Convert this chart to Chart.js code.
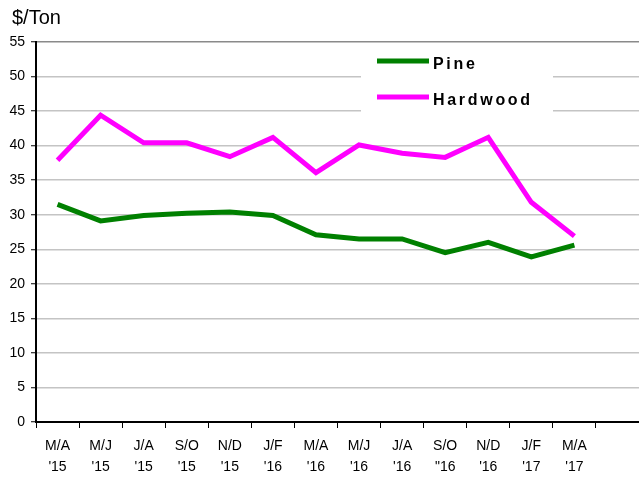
<!DOCTYPE html>
<html>
<head>
<meta charset="utf-8">
<script src="https://cdn.jsdelivr.net/npm/chart.js@4/dist/chart.umd.min.js"></script>
<style>
  html, body { margin: 0; padding: 0; background: #fff; }
  #wrap { width: 639px; height: 477px; }
</style>
</head>
<body>
<div id="wrap"><canvas id="c" width="639" height="477"></canvas></div>
<script>
const categories = [
  ["M/A", "'15"], ["M/J", "'15"], ["J/A", "'15"], ["S/O", "'15"], ["N/D", "'15"],
  ["J/F", "'16"], ["M/A", "'16"], ["M/J", "'16"], ["J/A", "'16"], ["S/O", "\"16"],
  ["N/D", "'16"], ["J/F", "'17"], ["M/A", "'17"], ""
];
const pine = [31.5, 29.1, 29.9, 30.2, 30.4, 29.9, 27.1, 26.5, 26.5, 24.5, 26.0, 23.9, 25.6, null];
const hardwood = [37.9, 44.4, 40.4, 40.4, 38.4, 41.2, 36.1, 40.1, 38.9, 38.3, 41.2, 31.8, 26.9, null];
const seriesNames = ["Pine", "Hardwood"];
const yUnit = "$/Ton";

const overlay = {
  id: 'overlay',
  afterDraw(chart) {
    const ctx = chart.ctx;
    ctx.save();
    // unit label
    ctx.fillStyle = '#000';
    ctx.font = '20px Arial, "Liberation Sans", sans-serif';
    ctx.textBaseline = 'alphabetic';
    ctx.textAlign = 'left';
    ctx.fillText(yUnit, 12, 24);
    // legend box
    ctx.fillStyle = '#fff';
    ctx.fillRect(361, 44, 192, 70);
    const items = chart.data.datasets;
    const rows = [61, 97];
    items.forEach((ds, i) => {
      const y = rows[i];
      ctx.strokeStyle = ds.borderColor;
      ctx.lineWidth = 5;
      ctx.beginPath();
      ctx.moveTo(377, y);
      ctx.lineTo(429, y);
      ctx.stroke();
      ctx.fillStyle = '#000';
      ctx.font = 'bold 16px Arial, "Liberation Sans", sans-serif';
      ctx.letterSpacing = '2.7px';
      ctx.textBaseline = 'alphabetic';
      ctx.fillText(ds.label, 433, y + 8);
      ctx.letterSpacing = '0px';
    });
    ctx.restore();
  }
};

new Chart(document.getElementById('c'), {
  type: 'line',
  data: {
    labels: categories,
    datasets: [
      { label: seriesNames[0], data: pine, borderColor: '#008000', backgroundColor: '#008000',
        borderWidth: 5, pointRadius: 0, tension: 0, fill: false },
      { label: seriesNames[1], data: hardwood, borderColor: '#ff00ff', backgroundColor: '#ff00ff',
        borderWidth: 5, pointRadius: 0, tension: 0, fill: false }
    ]
  },
  options: {
    responsive: false,
    animation: false,
    devicePixelRatio: 1,
    layout: { padding: { top: 42, left: 0, right: 0, bottom: 0 } },
    plugins: { legend: { display: false }, tooltip: { enabled: false } },
    scales: {
      x: {
        offset: true,
        grid: { offset: true, drawOnChartArea: false, tickLength: 6, tickColor: '#000', tickWidth: 1 },
        border: { color: '#000', width: 2 },
        ticks: {
          autoSkip: false, maxRotation: 0, minRotation: 0, color: '#000', padding: 8,
          font: { family: 'Arial, "Liberation Sans", sans-serif', size: 14, lineHeight: 1.5 }
        },
        afterFit(scale) { scale.height = 55; }
      },
      y: {
        min: 0, max: 55,
        ticks: {
          stepSize: 5, color: '#000', padding: 6,
          font: { family: 'Arial, "Liberation Sans", sans-serif', size: 14 }
        },
        grid: {
          color: (c) => (c.tick && c.tick.value === 55) ? '#8a8a8a' : '#c4c4c4',
          lineWidth: 1.5, tickLength: 5, tickColor: '#000', tickWidth: 1
        },
        border: { color: '#000', width: 2 },
        afterFit(scale) { scale.width = 36; }
      }
    }
  },
  plugins: [overlay]
});
</script>
</body>
</html>
